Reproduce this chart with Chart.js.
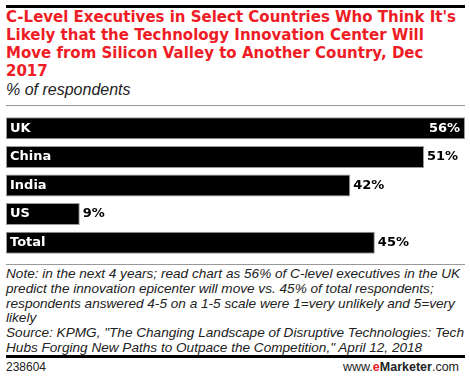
<!DOCTYPE html>
<html><head><meta charset="utf-8">
<script src="https://cdn.jsdelivr.net/npm/chart.js@4/dist/chart.umd.min.js"></script>
<style>
html,body{margin:0;padding:0;background:#fff;width:470px;height:378px;overflow:hidden;}
#wrap{position:relative;width:470px;height:378px;}
.rule{position:absolute;left:6px;width:459px;}
#title{position:absolute;left:6px;top:8px;color:#ee1c25;font:bold 15px "DejaVu Sans",sans-serif;line-height:18px;white-space:nowrap;letter-spacing:0px;}
#sub{position:absolute;left:6px;top:81px;font:italic 16px "Liberation Sans",sans-serif;color:#222;white-space:nowrap;}
#note{position:absolute;left:6px;top:267px;font:italic 13.6px "Liberation Sans",sans-serif;color:#222;line-height:14.8px;white-space:nowrap;}
#id{position:absolute;left:6px;top:360px;font:12px "Liberation Sans",sans-serif;color:#222;}
#brand{position:absolute;right:11px;top:360px;font:12.5px "Liberation Sans",sans-serif;color:#222;}
#brand b.e{color:#ee1c25;}
#cw{position:absolute;left:6px;top:114px;width:459px;height:143px;}
</style></head><body>
<div id="wrap">
<div class="rule" style="top:5px;height:3px;background:#000"></div>
<div id="title">C-Level Executives in Select Countries Who Think It's<br>Likely that the Technology Innovation Center Will<br>Move from Silicon Valley to Another Country, Dec<br>2017</div>
<div id="sub">% of respondents</div>
<div class="rule" style="top:105px;height:1px;background:#999"></div>
<div id="cw"><canvas id="c"></canvas></div>
<div class="rule" style="top:264px;height:1px;background:#999"></div>
<div id="note">Note: in the next 4 years; read chart as 56% of C-level executives in the UK<br>predict the innovation epicenter will move vs. 45% of total respondents;<br>respondents answered 4-5 on a 1-5 scale were 1=very unlikely and 5=very<br>likely<br>Source: KPMG, "The Changing Landscape of Disruptive Technologies: Tech<br>Hubs Forging New Paths to Outpace the Competition," April 12, 2018</div>
<div class="rule" style="top:355px;height:3px;background:#000"></div>
<div id="id">238604</div>
<div id="brand">www.<b class="e">e</b><b>Marketer</b>.com</div>
</div>
<script>
const categories = ["UK","China","India","US","Total"];
const values = [56,51,42,9,45];
const valueLabels = ["56%","51%","42%","9%","45%"];

const labelPlugin = {
  id:'barLabels',
  afterDatasetsDraw(chart){
    const ctx = chart.ctx;
    const meta = chart.getDatasetMeta(0);
    const xs = chart.scales.x;
    ctx.save();
    ctx.font = 'bold 13px "DejaVu Sans", sans-serif';
    ctx.textBaseline = 'middle';
    meta.data.forEach((bar,i)=>{
      const y = bar.y;
      ctx.fillStyle = '#fff';
      ctx.textAlign = 'left';
      ctx.fillText(categories[i], xs.getPixelForValue(0)+4, y);
      const end = bar.x;
      const lbl = valueLabels[i];
      const w = ctx.measureText(lbl).width;
      if (end + 4 + w > chart.chartArea.right) {
        ctx.fillStyle = '#fff';
        ctx.textAlign = 'right';
        ctx.fillText(lbl, end - 5, y);
      } else {
        ctx.fillStyle = '#000';
        ctx.textAlign = 'left';
        ctx.fillText(lbl, end + 3, y);
      }
    });
    ctx.restore();
  }
};

new Chart(document.getElementById('c'), {
  type:'bar',
  data:{labels:categories,datasets:[{data:values,backgroundColor:'#000',borderColor:'#9a9a9a',borderWidth:1,borderSkipped:false,barPercentage:0.77,categoryPercentage:1}]},
  options:{
    indexAxis:'y',responsive:true,maintainAspectRatio:false,animation:false,
    layout:{padding:0},
    plugins:{legend:{display:false},tooltip:{enabled:false},title:{display:false}},
    scales:{
      x:{display:false,min:0,max:56},
      y:{display:false}
    }
  },
  plugins:[labelPlugin]
});
</script>
</body></html>
